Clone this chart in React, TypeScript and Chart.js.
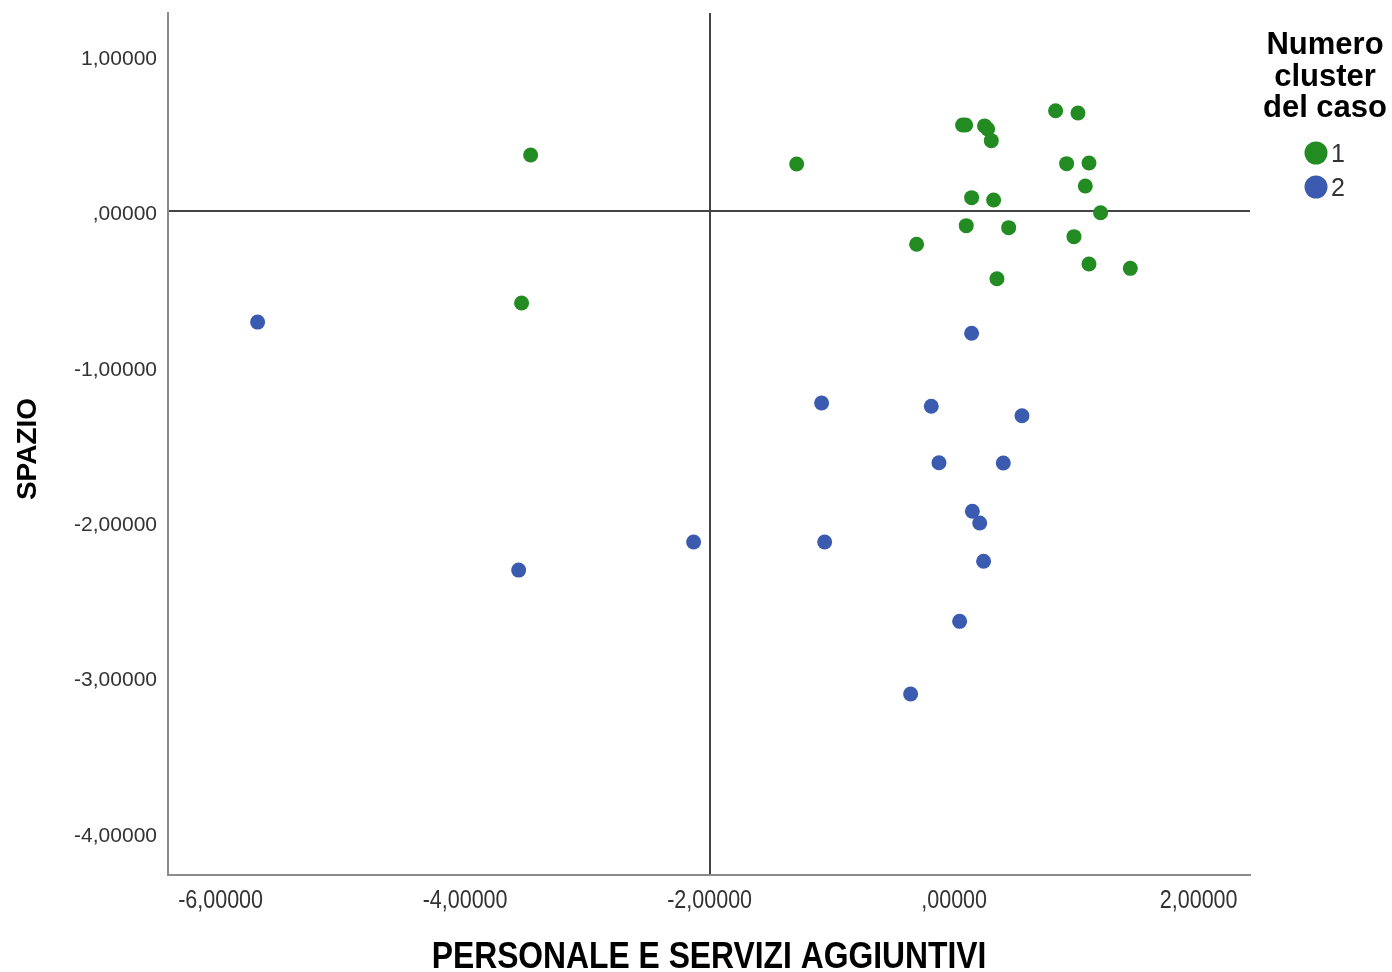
import React, { useEffect, useRef } from "react";
import { Chart, registerables } from "chart.js";

Chart.register(...registerables);

// ---- Data ----
const cluster1X = [-3.464, -3.538, -1.288, 0.069, 0.094, 0.249, 0.274, 0.304, 0.83, 1.013, 0.92, 1.103, 1.073, 0.143, 0.323, 1.198, 0.099, 0.446, 0.98, -0.307, 1.103, 1.441, 0.35];
const cluster1Y = [0.364, -0.589, 0.306, 0.557, 0.557, 0.551, 0.531, 0.456, 0.649, 0.634, 0.308, 0.312, 0.164, 0.089, 0.074, -0.008, -0.091, -0.104, -0.162, -0.211, -0.338, -0.366, -0.433];
const cluster2X = [-5.697, -3.562, -2.131, -1.084, -1.059, 0.143, -0.187, 0.555, -0.124, 0.402, 0.149, 0.209, 0.241, 0.045, -0.356];
const cluster2Y = [-0.712, -2.309, -2.128, -1.233, -2.128, -0.784, -1.254, -1.315, -1.618, -1.619, -1.93, -2.006, -2.252, -2.639, -3.107];

const xTickValues = [-6, -4, -2, 0, 2];
const yTickValues = [1, 0, -1, -2, -3, -4];
const xRefLine = -2;
const yRefLine = 0;

const legendTitle = ["Numero", "cluster", "del caso"];
const seriesLabels = ["1", "2"];
const seriesColors = ["#228B22", "#3A5BB0"];

const xTitle = "PERSONALE E SERVIZI AGGIUNTIVI";
const yTitle = "SPAZIO";

const fmt = (v: number) => {
  if (Math.abs(v) < 1e-9) return ",00000";
  return v.toFixed(5).replace(".", ",");
};

const FONT = '"Liberation Sans", Arial, sans-serif';
const SQUEEZE = 0.86;

const textPlugin = {
  id: "customText",
  afterDraw(chart: any) {
    const ctx = chart.ctx;
    const xs = chart.scales.x;
    ctx.save();
    // x tick labels (condensed)
    ctx.fillStyle = "#333";
    ctx.font = "25px " + FONT;
    ctx.textAlign = "center";
    ctx.textBaseline = "middle";
    xTickValues.forEach((v) => {
      const px = xs.getPixelForValue(v);
      ctx.save();
      ctx.translate(px, 901);
      ctx.scale(SQUEEZE, 1);
      ctx.fillText(fmt(v), 0, 0);
      ctx.restore();
    });
    // x title (condensed)
    ctx.fillStyle = "#000";
    ctx.font = "bold 37px " + FONT;
    ctx.save();
    ctx.translate((chart.chartArea.left + chart.chartArea.right) / 2, 958);
    ctx.scale(SQUEEZE, 1);
    ctx.fillText(xTitle, 0, 0);
    ctx.restore();

    // y title
    ctx.font = "bold 28px " + FONT;
    ctx.save();
    ctx.translate(28, 449);
    ctx.rotate(-Math.PI / 2);
    ctx.fillText(yTitle, 0, 0);
    ctx.restore();

    // legend
    ctx.fillStyle = "#000";
    ctx.font = "bold 31px " + FONT;
    ctx.textAlign = "center";
    const titleYs = [45, 77, 108];
    legendTitle.forEach((t, i) => ctx.fillText(t, 1325, titleYs[i]));
    const itemYs = [153, 187];
    seriesLabels.forEach((lab, i) => {
      ctx.beginPath();
      ctx.fillStyle = seriesColors[i];
      ctx.arc(1316, itemYs[i], 11.5, 0, Math.PI * 2);
      ctx.fill();
      ctx.fillStyle = "#333";
      ctx.font = "25px " + FONT;
      ctx.textAlign = "left";
      ctx.fillText(lab, 1331, itemYs[i] + 2);
    });
    ctx.restore();
  },
};

export default function App() {
  const ref = useRef<HTMLCanvasElement | null>(null);

  useEffect(() => {
    if (!ref.current) return;
    const d1 = cluster1X.map((x, i) => ({ x, y: cluster1Y[i] }));
    const d2 = cluster2X.map((x, i) => ({ x, y: cluster2Y[i] }));
    const chart = new Chart(ref.current, {
      type: "scatter",
      data: {
        datasets: [
          { label: seriesLabels[0], data: d1, backgroundColor: seriesColors[0], borderWidth: 0, pointRadius: 7.5, pointHoverRadius: 7.5 },
          { label: seriesLabels[1], data: d2, backgroundColor: seriesColors[1], borderWidth: 0, pointRadius: 7.5, pointHoverRadius: 7.5 },
        ],
      },
      options: {
        responsive: false,
        animation: false,
        devicePixelRatio: 1,
        layout: { padding: { top: 13, right: 142, bottom: 0, left: 0 } },
        plugins: { legend: { display: false }, tooltip: { enabled: false } },
        scales: {
          x: {
            type: "linear",
            min: -6.43,
            max: 2.42,
            afterBuildTicks: (s: any) => {
              s.ticks = xTickValues.map((v) => ({ value: v }));
            },
            afterFit: (s: any) => {
              s.height = 97;
              s.paddingLeft = 0;
              s.paddingRight = 0;
            },
            grid: {
              drawTicks: false,
              color: (c: any) => (c.tick && c.tick.value === xRefLine ? "#444" : "rgba(0,0,0,0)"),
              lineWidth: 2,
            },
            border: { display: true, color: "#8a8a8a", width: 2 },
            ticks: { display: false, autoSkip: false },
            title: { display: false },
          },
          y: {
            type: "linear",
            min: -4.272,
            max: 1.278,
            afterBuildTicks: (s: any) => {
              s.ticks = yTickValues.map((v) => ({ value: v }));
            },
            afterFit: (s: any) => {
              s.width = 168;
              s.paddingTop = 0;
              s.paddingBottom = 0;
            },
            grid: {
              drawTicks: false,
              color: (c: any) => (c.tick && c.tick.value === yRefLine ? "#444" : "rgba(0,0,0,0)"),
              lineWidth: 2,
            },
            border: { display: true, color: "#8a8a8a", width: 2 },
            ticks: {
              padding: 11,
              labelOffset: 3,
              color: "#333",
              font: { family: FONT, size: 21 },
              callback: (v: any) => fmt(Number(v)),
              autoSkip: false,
            },
            title: { display: false },
          },
        },
      },
      plugins: [textPlugin],
    } as any);
    return () => chart.destroy();
  }, []);

  return (
    <div style={{ position: "absolute", left: 0, top: 0, width: 1392, height: 972, background: "#fff" }}>
      <canvas ref={ref} width={1392} height={972} style={{ display: "block", width: 1392, height: 972 }} />
    </div>
  );
}
